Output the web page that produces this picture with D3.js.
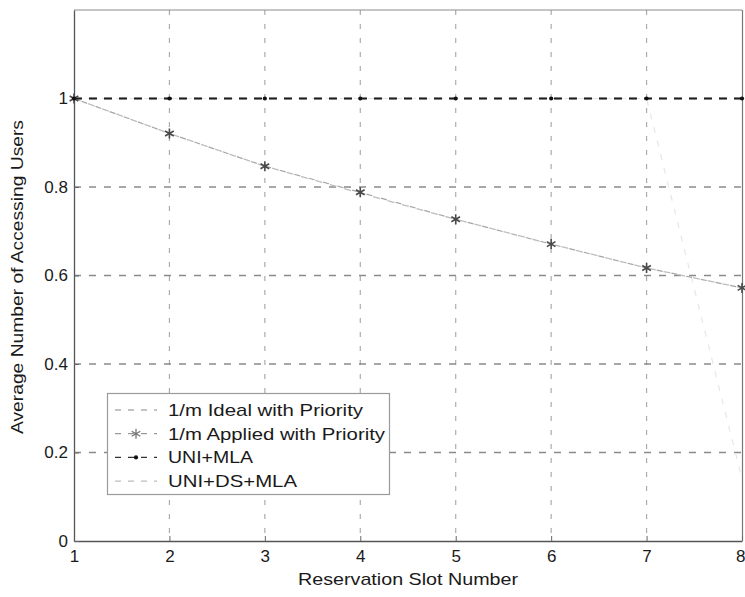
<!DOCTYPE html>
<html>
<head>
<meta charset="utf-8">
<script src="https://cdn.jsdelivr.net/npm/d3@7"></script>
<style>
  html, body { margin: 0; padding: 0; background: #fff; }
  svg { display: block; font-family: "Liberation Sans", Arial, sans-serif; }
</style>
</head>
<body>
<svg id="chart" width="745" height="597"></svg>
<script>
// Reservation slot numbers (x axis)
const slots = [1, 2, 3, 4, 5, 6, 7, 8];
// Average number of accessing users per scheme
const idealPriority   = [1.0, 0.921, 0.847, 0.786, 0.727, 0.671, 0.617, 0.572];
const appliedPriority = [1.0, 0.921, 0.847, 0.788, 0.727, 0.671, 0.617, 0.572];
const uniMla          = [1.0, 1.0, 1.0, 1.0, 1.0, 1.0, 1.0, 1.0];
const uniDsMla        = [1.0, 1.0, 1.0, 1.0, 1.0, 1.0, 1.0, 0.14];
const xTicks = [1, 2, 3, 4, 5, 6, 7, 8];
const yTicks = [0, 0.2, 0.4, 0.6, 0.8, 1];
const legendLabels = ["1/m Ideal with Priority", "1/m Applied with Priority", "UNI+MLA", "UNI+DS+MLA"];

const svg = d3.select("#chart");
const m = { left: 74, right: 742, top: 10, bottom: 541 };

const x = d3.scaleLinear().domain([1, 8]).range([m.left, m.right]);
const y = d3.scaleLinear().domain([0, 1.2]).range([m.bottom, m.top]);

// grid
const grid = svg.append("g");
grid.selectAll("line.vx").data(xTicks.slice(1, -1)).join("line")
  .attr("x1", d => x(d)).attr("x2", d => x(d))
  .attr("y1", m.top).attr("y2", m.bottom)
  .attr("stroke", "#ababab").attr("stroke-width", 1.2).attr("stroke-dasharray", "5,9");
grid.selectAll("line.hy").data(yTicks.slice(1)).join("line")
  .attr("x1", m.left).attr("x2", m.right)
  .attr("y1", d => y(d)).attr("y2", d => y(d))
  .attr("stroke", "#8a8a8a").attr("stroke-width", 1.3).attr("stroke-dasharray", "7,8");

// frame
svg.append("line").attr("x1", m.left).attr("x2", m.right).attr("y1", m.top).attr("y2", m.top)
  .attr("stroke", "#8c8c8c").attr("stroke-width", 1.2);
svg.append("line").attr("x1", m.right + 0.5).attr("x2", m.right + 0.5).attr("y1", m.top).attr("y2", m.bottom)
  .attr("stroke", "#777").attr("stroke-width", 1.2);

// axes
const xAxis = d3.axisBottom(x).tickValues(xTicks).tickFormat(d3.format("d"))
  .tickSizeInner(-5).tickSizeOuter(0).tickPadding(7);
const yAxis = d3.axisLeft(y).tickValues(yTicks).tickFormat(d3.format("~g"))
  .tickSizeInner(-5).tickSizeOuter(0).tickPadding(6);

const gx = svg.append("g").attr("transform", `translate(0,${m.bottom})`).call(xAxis);
const gy = svg.append("g").attr("transform", `translate(${m.left},0)`).call(yAxis);
[gx, gy].forEach(g => {
  g.select(".domain").attr("stroke", "#555").attr("stroke-width", 1.3);
  g.selectAll(".tick line").attr("stroke", "#666");
  g.selectAll(".tick text").attr("fill", "#1a1a1a").style("font-size", "17px")
    .style("font-family", "'Liberation Sans', Arial, sans-serif");
});
gx.selectAll(".tick text").attr("dy", "0.85em");
// last slot label sits at the right edge of the page
gx.selectAll(".tick text").filter(d => d === 8).attr("text-anchor", "end").attr("dx", 3);

// axis titles
svg.append("text").attr("x", 408).attr("y", 585).attr("text-anchor", "middle")
  .attr("fill", "#1a1a1a").style("font-size", "17px")
  .attr("textLength", 220).attr("lengthAdjust", "spacingAndGlyphs")
  .text("Reservation Slot Number");
svg.append("text").attr("transform", "translate(23,277) rotate(-90)").attr("text-anchor", "middle")
  .attr("fill", "#1a1a1a").style("font-size", "17px")
  .attr("textLength", 314).attr("lengthAdjust", "spacingAndGlyphs")
  .text("Average Number of Accessing Users");

// series lines
const line = vals => d3.line().x((d, i) => x(slots[i])).y(d => y(d))(vals);

svg.append("path").attr("d", line(uniDsMla)).attr("fill", "none")
  .attr("stroke", "#e6e6e6").attr("stroke-width", 1.2).attr("stroke-dasharray", "6,8");
svg.append("path").attr("d", line(idealPriority)).attr("fill", "none")
  .attr("stroke", "#bdbdbd").attr("stroke-width", 1.3).attr("stroke-dasharray", "7,8");
svg.append("path").attr("d", line(appliedPriority)).attr("fill", "none")
  .attr("stroke", "#a5a5a5").attr("stroke-width", 1.2).attr("stroke-dasharray", "6,9")
  .attr("stroke-dashoffset", 7);
svg.append("path").attr("d", line(uniMla)).attr("fill", "none")
  .attr("stroke", "#1e1e1e").attr("stroke-width", 2.2).attr("stroke-dasharray", "8,7");

const star = d3.symbol().type(d3.symbolAsterisk).size(70);
svg.append("g").selectAll("path").data(appliedPriority).join("path")
  .attr("transform", (d, i) => `translate(${x(slots[i])},${y(d)})`)
  .attr("d", star).attr("fill", "none").attr("stroke", "#4a4a4a").attr("stroke-width", 1.6);

const dot = d3.symbol().type(d3.symbolCircle).size(14);
svg.append("g").selectAll("path").data(uniMla).join("path")
  .attr("transform", (d, i) => `translate(${x(slots[i])},${y(d)})`)
  .attr("d", dot).attr("fill", "#111");

// legend
const lg = svg.append("g");
lg.append("rect").attr("x", 107.5).attr("y", 393.5).attr("width", 282).attr("height", 101)
  .attr("fill", "#fff").attr("stroke", "#9a9a9a").attr("stroke-width", 1.2);
const legendStyles = [
  { stroke: "#b0b0b0", w: 1.3, marker: null, len: 195 },
  { stroke: "#9a9a9a", w: 1.2, marker: "star", len: 217 },
  { stroke: "#333", w: 1.4, marker: "dot", len: 85 },
  { stroke: "#bdbdbd", w: 1.2, marker: null, len: 129 }
];
legendLabels.forEach((lab, i) => {
  const yy = 410 + i * 23.7;
  const s = legendStyles[i];
  lg.append("line").attr("x1", 115).attr("x2", 157).attr("y1", yy).attr("y2", yy)
    .attr("stroke", s.stroke).attr("stroke-width", s.w).attr("stroke-dasharray", "6,7");
  if (s.marker === "star") {
    lg.append("path").attr("transform", `translate(136,${yy})`).attr("d", star)
      .attr("fill", "none").attr("stroke", "#777").attr("stroke-width", 1.3);
  } else if (s.marker === "dot") {
    lg.append("path").attr("transform", `translate(136,${yy})`).attr("d", dot).attr("fill", "#111");
  }
  lg.append("text").attr("x", 168).attr("y", yy + 6).attr("fill", "#1a1a1a")
    .style("font-size", "17px")
    .attr("textLength", s.len).attr("lengthAdjust", "spacingAndGlyphs")
    .text(lab);
});
</script>
</body>
</html>
